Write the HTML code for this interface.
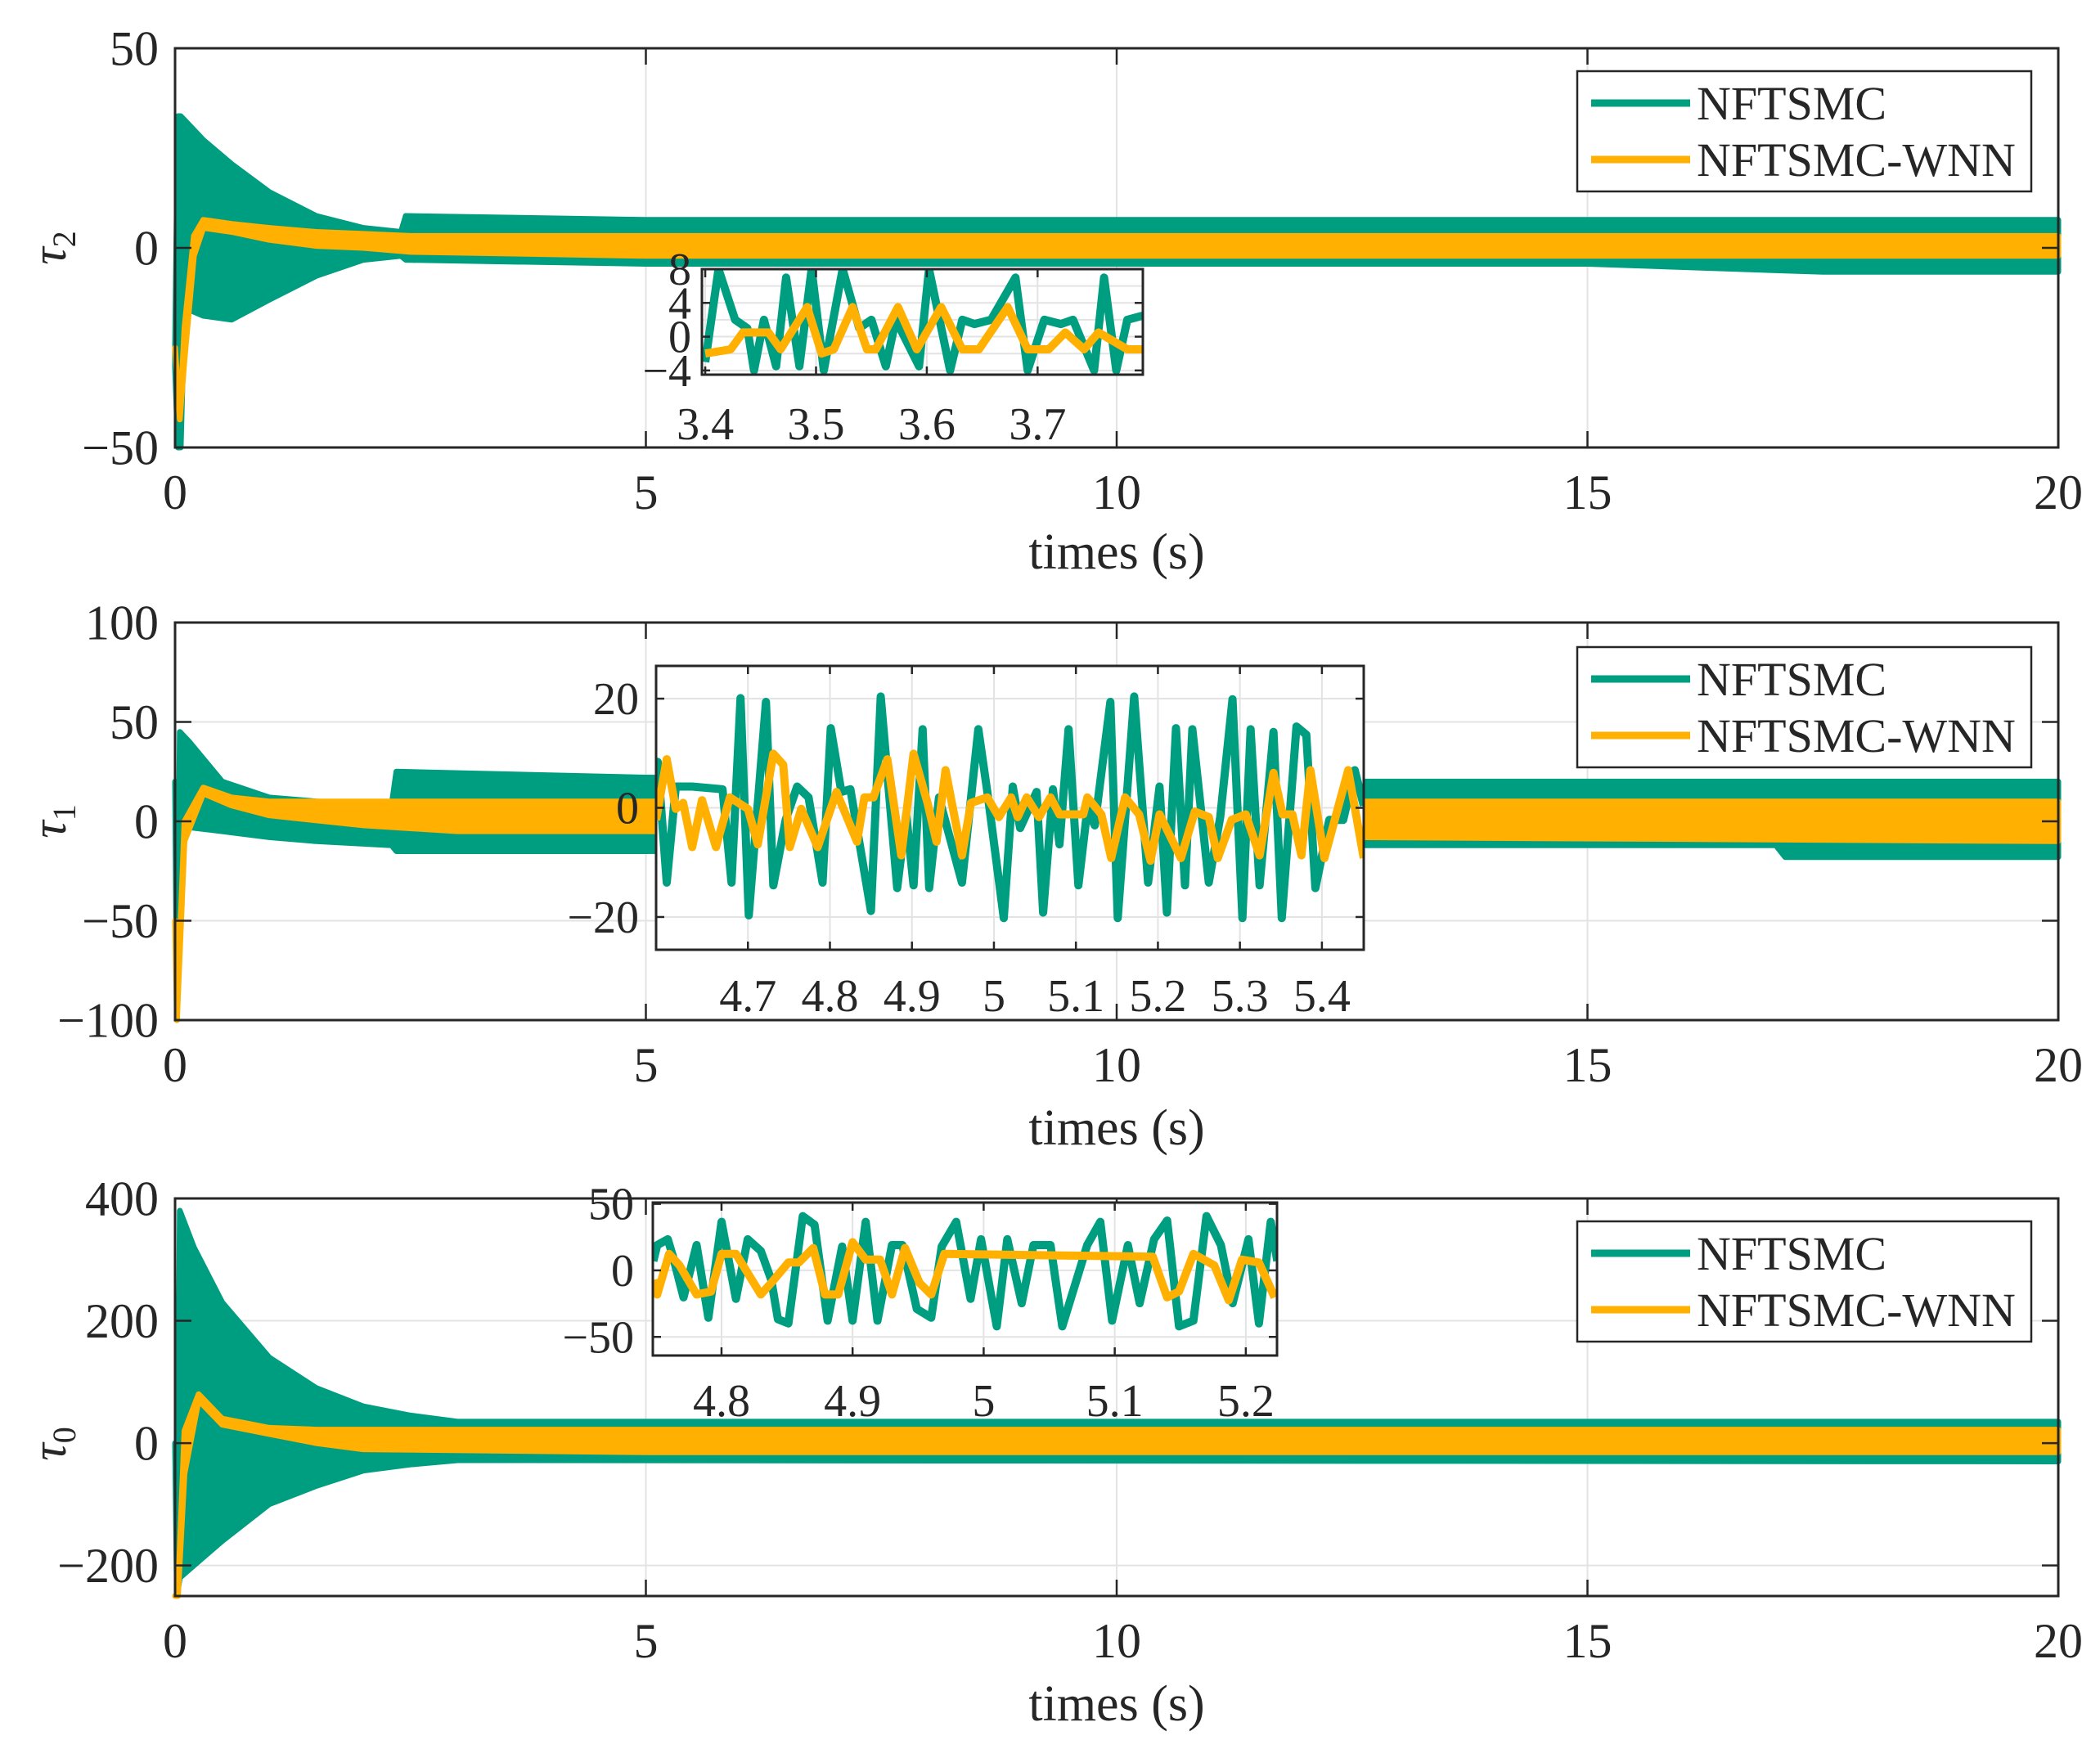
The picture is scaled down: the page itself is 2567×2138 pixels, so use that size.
<!DOCTYPE html>
<html><head><meta charset="utf-8"><style>
html,body{margin:0;padding:0;background:#fff;}
svg{display:block;}
text{font-family:"Liberation Serif","DejaVu Serif",serif;fill:#262626;}
</style></head>
<body>
<svg id="chart" xmlns="http://www.w3.org/2000/svg" width="2567" height="2138" viewBox="0 0 2567 2138"></svg>
<script>
// ---------- data: panel 1 (tau2) envelopes ----------
const p1GreenT=[0,0.03,0.06,0.1,0.3,0.6,1.0,1.5,2.0,2.4,2.45,5,10,15,17.5,20];
const p1GreenUp=[-25,33,33,32,27,21,14,8,5,4,8,7,7,7,7,7];
const p1GreenLo=[-30,-50,-50,-15,-17,-18,-13,-7,-3,-2,-3,-4,-4,-4,-6,-6];
const p1YellowT=[0,0.05,0.1,0.2,0.3,0.6,1,1.5,2,2.5,5,10,15,20];
const p1YellowUp=[-25,-43,-20,3,7,6,5,4,3.5,3,3,3,3,3];
const p1YellowLo=[-25,-43,-28,-2,5,4,2,0.5,0,-1,-2,-2,-2,-2];
// ---------- panel 2 (tau1) ----------
const p2GreenT=[0,0.02,0.05,0.15,0.5,1,1.5,2.3,2.35,5,12.5,15,17,17.1,20];
const p2GreenUp=[20,-100,45,40,20,12,10,8,25,22,20,20,20,20,20];
const p2GreenLo=[20,-100,-5,-3,-5,-8,-10,-12,-15,-15,-12,-12,-12,-18,-18];
const p2YellowT=[0,0.02,0.1,0.3,0.6,1,2,3,5,12.5,20];
const p2YellowUp=[-50,-100,0,17,12,10,10,10,10,10,10];
const p2YellowLo=[-50,-100,-10,14,8,3,-2,-5,-5,-8,-10];
// ---------- panel 3 (tau0) ----------
const p3GreenT=[0,0.02,0.05,0.2,0.5,1,1.5,2,2.5,3,20];
const p3GreenUp=[0,-250,380,320,230,140,90,60,45,35,35];
const p3GreenLo=[0,-250,-220,-200,-160,-100,-70,-45,-35,-28,-30];
const p3YellowT=[0,0.03,0.1,0.25,0.5,1,1.5,2,5,20];
const p3YellowUp=[-250,-250,20,80,40,25,22,22,22,22];
const p3YellowLo=[-250,-250,-50,70,30,15,0,-10,-15,-15];
// ---------- inset 1 ----------
const in1GreenT=[3.400,3.412,3.427,3.438,3.444,3.453,3.464,3.473,3.485,3.496,3.507,3.524,3.539,3.550,3.563,3.572,3.593,3.602,3.621,3.632,3.643,3.658,3.680,3.691,3.706,3.721,3.732,3.751,3.760,3.771,3.781,3.795];
const in1GreenV=[-3,8,2,1,-4,2,-3.5,7,-3.5,8,-4,8,1,2,-3.5,2,-3.5,8,-4,2,1.5,2,7,-4,2,1.5,2,-4,7,-4,2,2.5];
const in1YellowT=[3.400,3.423,3.434,3.457,3.468,3.492,3.505,3.516,3.533,3.546,3.554,3.574,3.591,3.613,3.632,3.647,3.673,3.691,3.710,3.725,3.742,3.755,3.781,3.795];
const in1YellowV=[-2,-1.5,0.5,0.5,-1.5,3.5,-2,-1.5,3.5,-1.5,-1.5,3.5,-1.5,3.5,-1.5,-1.5,3.5,-1.5,-1.5,0.5,-1.5,0.5,-1.5,-1.5];
// ---------- inset 2 ----------
const in2GreenT=[4.588,4.590,4.601,4.612,4.632,4.669,4.680,4.691,4.701,4.722,4.731,4.746,4.760,4.774,4.791,4.801,4.814,4.825,4.850,4.862,4.882,4.893,4.902,4.913,4.921,4.933,4.961,4.981,4.992,5.012,5.023,5.032,5.052,5.060,5.072,5.080,5.091,5.103,5.114,5.123,5.142,5.151,5.171,5.188,5.202,5.211,5.222,5.233,5.242,5.262,5.276,5.291,5.303,5.313,5.324,5.341,5.351,5.369,5.381,5.392,5.409,5.426,5.440,5.451];
const in2GreenV=[1.9,8.4,-13.7,3.9,3.9,3.4,-13.7,20.1,-19.7,19.4,-14.2,-2.2,3.9,1.9,-13.7,14.6,2.9,3.4,-18.9,20.4,-14.7,-1.2,-14.2,14.4,-14.7,1.9,-13.7,14.4,2.9,-20.2,3.9,-3.7,2.9,-19.2,3.4,-6.7,14.4,-14.2,-0.2,-3.2,19.4,-20.2,20.4,-13.7,3.9,-19.2,14.6,-14.2,14.4,-13.7,-1.7,19.9,-20.2,14.4,-14.2,13.9,-20.2,14.9,13.4,-14.7,-2.2,-2.2,6.9,0.4];
const in2YellowT=[4.588,4.601,4.612,4.621,4.632,4.644,4.661,4.678,4.700,4.712,4.731,4.743,4.751,4.765,4.785,4.808,4.833,4.842,4.853,4.870,4.887,4.902,4.919,4.930,4.941,4.961,4.972,4.992,5.006,5.021,5.029,5.040,5.055,5.069,5.080,5.109,5.114,5.131,5.143,5.160,5.177,5.191,5.202,5.228,5.245,5.262,5.273,5.290,5.307,5.324,5.341,5.352,5.364,5.375,5.386,5.403,5.432,5.451];
const in2YellowV=[-2.2,8.9,-0.2,0.9,-7.2,1.4,-7.2,1.9,-0.2,-6.7,9.9,7.9,-7.2,-0.2,-7.2,2.9,-6.2,1.9,1.9,8.9,-8.7,9.9,0.9,-6.2,6.9,-8.7,0.9,1.9,-1.7,1.9,-1.7,1.9,-1.7,1.9,-1.2,-1.2,1.9,-1.2,-9.2,1.9,-1.2,-9.7,-1.2,-9.2,-0.7,-1.7,-9.2,-2.2,-1.2,-8.7,6.4,-1.2,-1.2,-8.7,6.9,-9.2,6.9,-9.2];
// ---------- inset 3 ----------
const in3GreenT=[4.748,4.751,4.759,4.763,4.771,4.781,4.790,4.800,4.811,4.820,4.830,4.838,4.843,4.851,4.862,4.871,4.881,4.892,4.900,4.910,4.919,4.930,4.938,4.949,4.960,4.968,4.979,4.990,4.998,5.010,5.018,5.029,5.038,5.051,5.060,5.079,5.089,5.098,5.110,5.119,5.130,5.140,5.149,5.160,5.170,5.181,5.190,5.202,5.210,5.219,5.224];
const in3GreenV=[7.0,19.0,23.4,10.3,-20.3,19.0,-35.6,36.5,-21.4,23.4,14.6,-7.2,-36.7,-39.9,40.8,34.3,-37.8,17.9,-37.8,36.5,-37.8,19.0,19.0,-29.0,-35.6,17.9,36.5,-21.4,23.4,-42.1,23.4,-24.7,19.0,19.0,-42.1,19.0,36.5,-37.8,19.0,-24.7,23.4,37.5,-42.1,-37.8,40.8,19.0,-24.7,23.4,-39.9,36.5,7.0];
const in3YellowT=[4.748,4.751,4.760,4.768,4.781,4.792,4.800,4.811,4.830,4.838,4.851,4.859,4.870,4.879,4.889,4.900,4.910,4.921,4.930,4.940,4.951,4.960,4.970,5.129,5.140,5.149,5.160,5.176,5.187,5.197,5.210,5.222];
const in3YellowV=[-7.2,-18.1,12.4,3.7,-18.1,-15.9,12.4,12.4,-18.1,-9.4,5.9,5.9,16.8,-18.1,-18.1,21.2,8.1,8.1,-18.1,16.8,-9.4,-18.1,12.4,10.3,-20.3,-15.9,12.4,3.7,-22.5,8.1,5.9,-20.3];
// ---------- tick labels ----------
const mainXTicks=[0,5,10,15,20];
const p1YTicks=[-50,0,50];
const p2YTicks=[-100,-50,0,50,100];
const p3YTicks=[-200,0,200,400];
const in1XTicks=[3.4,3.5,3.6,3.7];
const in1YTicks=[-4,0,4,8];
const in1YGrid=[-4,-2,0,2,4,6,8];
const in2XTicks=[4.7,4.8,4.9,5,5.1,5.2,5.3,5.4];
const in2YTicks=[-20,0,20];
const in3XTicks=[4.8,4.9,5,5.1,5.2];
const in3YTicks=[-50,0,50];
const legendLabels=["NFTSMC","NFTSMC-WNN"];

const NS="http://www.w3.org/2000/svg";
const svg=document.getElementById('chart');
const GREEN="#009E80", YELLOW="#FFB000";
function mk(tag,attrs,parent){const e=document.createElementNS(NS,tag);for(const k in attrs)e.setAttribute(k,attrs[k]);(parent||svg).appendChild(e);return e;}
function scales(b){
  return {x:v=>b.x0+(v-b.xmin)/(b.xmax-b.xmin)*(b.x1-b.x0), y:v=>b.y1-(v-b.ymin)/(b.ymax-b.ymin)*(b.y1-b.y0)};
}
function axes(b,xt,yt,ygrid,name){
  const s=scales(b); const g=mk('g',{});
  
  
  mk('rect',{x:b.x0,y:b.y0,width:b.x1-b.x0,height:b.y1-b.y0,fill:'#fff'},g);
  xt.forEach(v=>{const X=s.x(v);
    const l=mk('line',{x1:X,x2:X,y1:b.y0,y2:b.y1,stroke:'#e3e3e3','stroke-width':2},g);
    
    });
  (ygrid||yt).forEach(v=>{const Y=s.y(v);
    const l=mk('line',{x1:b.x0,x2:b.x1,y1:Y,y2:Y,stroke:'#e3e3e3','stroke-width':2},g);
    
    });
}
function frame(b,xt,yt,name,fs,xlabY,ylabX,tl){
  const s=scales(b); const g=mk('g',{});
  
  
  mk('rect',{x:b.x0,y:b.y0,width:b.x1-b.x0,height:b.y1-b.y0,fill:'none',stroke:'#262626','stroke-width':3},g);
  xt.forEach(v=>{const X=s.x(v);
    mk('line',{x1:X,x2:X,y1:b.y1,y2:b.y1-tl,stroke:'#262626','stroke-width':2.5},g);
    mk('line',{x1:X,x2:X,y1:b.y0,y2:b.y0+tl,stroke:'#262626','stroke-width':2.5},g);
    const t=mk('text',{x:X,y:xlabY,'font-size':fs,'text-anchor':'middle'},g);t.textContent=String(v);
    
    });
  yt.forEach(v=>{const Y=s.y(v);
    mk('line',{x1:b.x0,x2:b.x0+tl,y1:Y,y2:Y,stroke:'#262626','stroke-width':2.5},g);
    mk('line',{x1:b.x1,x2:b.x1-tl,y1:Y,y2:Y,stroke:'#262626','stroke-width':2.5},g);
    const t=mk('text',{x:ylabX,y:Y+fs*0.34,'font-size':fs,'text-anchor':'end'},g);t.textContent=String(v).replace('-','\u2212');
    
    });
}
function band(b,T,U,L,color,name){
  const s=scales(b); const pts=[];
  T.forEach((t,i)=>pts.push(s.x(t).toFixed(1)+','+s.y(U[i]).toFixed(1)));
  for(let i=T.length-1;i>=0;i--)pts.push(s.x(T[i]).toFixed(1)+','+s.y(L[i]).toFixed(1));
  const p=mk('polygon',{points:pts.join(' '),fill:color,stroke:color,'stroke-width':7,'stroke-linejoin':'round'});
  
  
}
function line(b,T,V,color,name,cid){
  const s=scales(b);
  const d=T.map((t,i)=>(i?'L':'M')+s.x(t).toFixed(1)+','+s.y(V[i]).toFixed(1)).join(' ');
  const p=mk('path',{d:d,fill:'none',stroke:color,'stroke-width':10,'stroke-linejoin':'round','clip-path':'url(#'+cid+')'});
  
  
}
function clip(b,id){const defs=mk('defs',{});const c=mk('clipPath',{id:id},defs);mk('rect',{x:b.x0,y:b.y0,width:b.x1-b.x0,height:b.y1-b.y0},c);}
function legend(x0,y0,name){
  const g=mk('g',{});
  
  
  mk('rect',{x:x0,y:y0,width:555,height:147,fill:'#fff',stroke:'#262626','stroke-width':2.5},g);
  [GREEN,YELLOW].forEach((c,i)=>{const y=y0+39+i*69;
    const l=mk('line',{x1:x0+17,x2:x0+138,y1:y,y2:y,stroke:c,'stroke-width':9},g);
    
    
    const t=mk('text',{x:x0+146,y:y+20,'font-size':58},g);t.textContent=legendLabels[i];
    
    });
}
function ylabel(x,y,sub,name){
  const t=mk('text',{x:x,y:y,'font-size':60,'font-style':'italic',transform:'rotate(-90 '+x+' '+y+')','text-anchor':'middle'});
  
  
  t.textContent='\u03C4';
  const s=mk('tspan',{'font-size':40,'font-style':'normal',dy:12},t);s.textContent=sub;
}
function xtitle(y){const t=mk('text',{x:1365,y:y,'font-size':62,'text-anchor':'middle'});t.textContent='times (s)';
  
  }

function panel(i,b,yt,gT,gU,gL,yT,yU,yL,titleY,labY,sub){
  axes(b,mainXTicks,yt,null,'panel-'+i+'-axes');
  band(b,gT,gU,gL,GREEN,'nftsmc-series-'+i);
  band(b,yT,yU,yL,YELLOW,'nftsmc-wnn-series-'+i);
  frame(b,mainXTicks,yt,'panel-'+i,60,b.y1+75,194,20);
  xtitle(titleY);
  ylabel(80,labY,sub,'y-axis-title-'+i);
}
function inset(i,b,xt,yt,yg,gT,gV,yT,yV,xlabY,ylabX){
  clip(b,'clip'+i);
  axes(b,xt,yt,yg,'inset-'+i+'-axes');
  line(b,gT,gV,GREEN,'inset-'+i+'-nftsmc','clip'+i);
  line(b,yT,yV,YELLOW,'inset-'+i+'-nftsmc-wnn','clip'+i);
  frame(b,xt,yt,'inset-'+i,56,xlabY,ylabX,10);
}
const B1={x0:214,x1:2516,y0:59,y1:547,xmin:0,xmax:20,ymin:-50,ymax:50};
const B2={x0:214,x1:2516,y0:761,y1:1247,xmin:0,xmax:20,ymin:-100,ymax:100};
const B3={x0:214,x1:2516,y0:1465,y1:1951,xmin:0,xmax:20,ymin:-250,ymax:400};
panel(1,B1,p1YTicks,p1GreenT,p1GreenUp,p1GreenLo,p1YellowT,p1YellowUp,p1YellowLo,695,303,'2');
panel(2,B2,p2YTicks,p2GreenT,p2GreenUp,p2GreenLo,p2YellowT,p2YellowUp,p2YellowLo,1399,1004,'1');
panel(3,B3,p3YTicks,p3GreenT,p3GreenUp,p3GreenLo,p3YellowT,p3YellowUp,p3YellowLo,2103,1765,'0');
inset(1,{x0:858,x1:1397,y0:329,y1:458,xmin:3.397,xmax:3.795,ymin:-4.5,ymax:8},in1XTicks,in1YTicks,in1YGrid,in1GreenT,in1GreenV,in1YellowT,in1YellowV,537,845);
inset(2,{x0:802,x1:1667,y0:814,y1:1161,xmin:4.588,xmax:5.451,ymin:-26,ymax:26},in2XTicks,in2YTicks,null,in2GreenT,in2GreenV,in2YellowT,in2YellowV,1236,781);
inset(3,{x0:798,x1:1561,y0:1470,y1:1657,xmin:4.7476,xmax:5.2238,ymin:-64,ymax:51},in3XTicks,in3YTicks,null,in3GreenT,in3GreenV,in3YellowT,in3YellowV,1731,775);
legend(1928,87,'legend-1');
legend(1928,791,'legend-2');
legend(1928,1493,'legend-3');
</script>
</body></html>
